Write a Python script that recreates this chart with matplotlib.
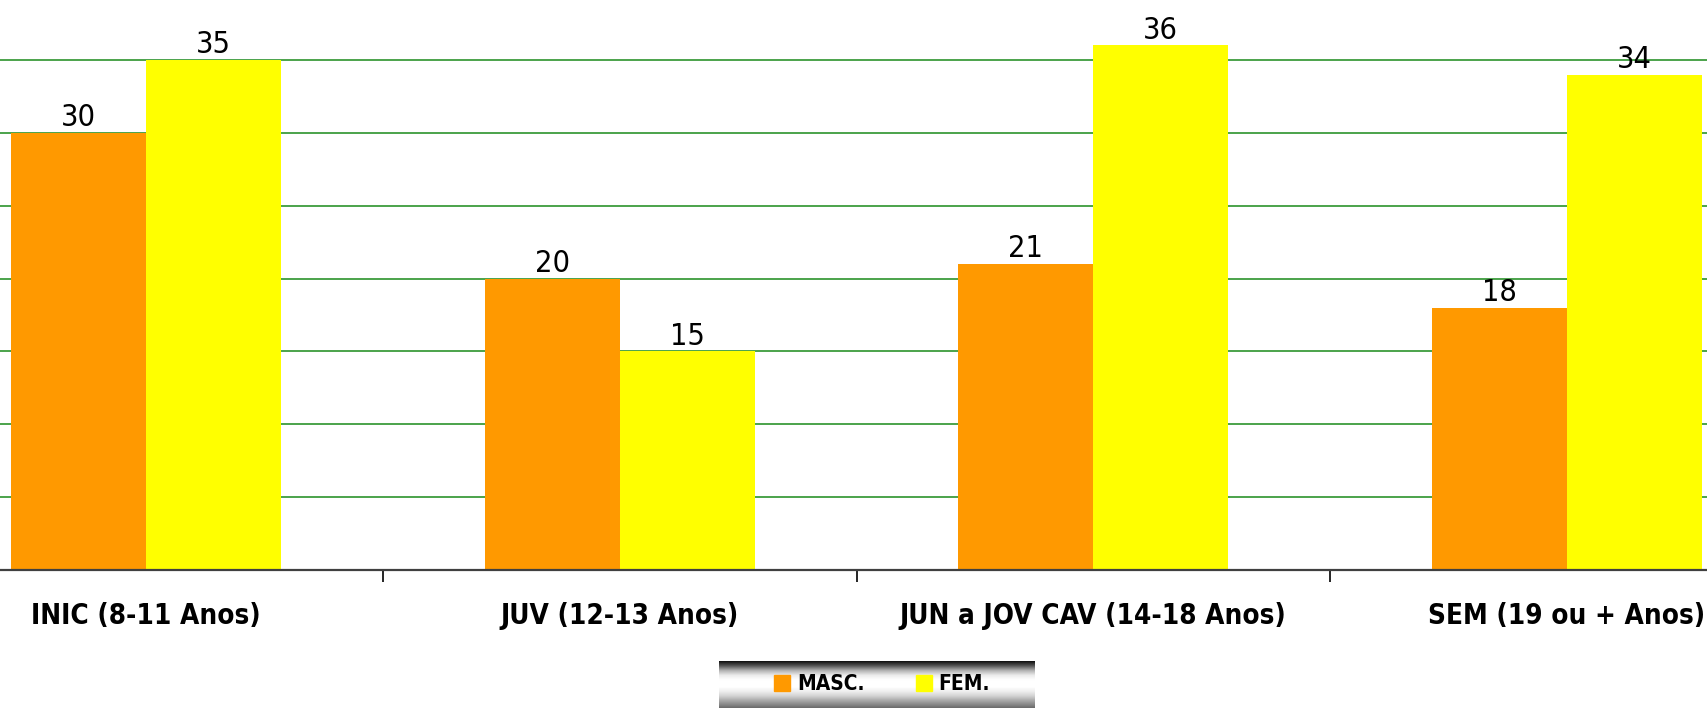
import numpy as np
import matplotlib
matplotlib.use("Agg")
import matplotlib.pyplot as plt
from matplotlib.lines import Line2D
from matplotlib import font_manager as fm

categories = ["INIC (8-11 Anos)", "JUV (12-13 Anos)", "JUN a JOV CAV (14-18 Anos)", "SEM (19 ou + Anos)"]
masc = [30, 20, 21, 18]
fem = [35, 15, 36, 34]
series_names = ["MASC.", "FEM."]
colors = ["#FF9900", "#FFFF00"]

W, H = 1707, 708
fig = plt.figure(figsize=(W / 100, H / 100), dpi=100)

cond_reg = [f.fname for f in fm.fontManager.ttflist
            if "DejaVuSansCondensed.ttf" in f.fname]
cond_bold = [f.fname for f in fm.fontManager.ttflist
             if "DejaVuSansCondensed-Bold.ttf" in f.fname]
HAVE = bool(cond_reg) and bool(cond_bold)
if HAVE:
    fp_val = fm.FontProperties(fname=cond_reg[0], size=22)
    fp_cat = fm.FontProperties(fname=cond_bold[0], size=20)
    fp_leg = fm.FontProperties(fname=cond_bold[0], size=15)
else:
    fp_val = fm.FontProperties(family="DejaVu Sans", size=20)
    fp_cat = fm.FontProperties(family="DejaVu Sans", weight="bold", size=18)
    fp_leg = fm.FontProperties(family="DejaVu Sans", weight="bold", size=13)

group_px = 473.5
left_px = -90.5
base_px = 570.0
unit_px = 14.57
ymax = 40
ax = fig.add_axes([left_px / W, (H - base_px) / H, 4 * group_px / W, ymax * unit_px / H])

x = np.arange(len(categories))
bw = 0.285
b1 = ax.bar(x - bw / 2, masc, bw, color=colors[0], zorder=3)
b2 = ax.bar(x + bw / 2, fem, bw, color=colors[1], zorder=3)
for bars in (b1, b2):
    for t in ax.bar_label(bars, padding=0.5, color="black"):
        t.set_fontproperties(fp_val)

ax.set_xlim(-0.5, len(categories) - 0.5)
ax.set_ylim(0, ymax)
ax.set_yticks(np.arange(5, ymax + 1, 5))
ax.yaxis.grid(True, color="#1A8A1A", linewidth=1.1, zorder=0)
ax.tick_params(axis="y", left=False, labelleft=False)
ax.set_xticks(x)
ax.set_xticklabels(categories)
for t in ax.get_xticklabels():
    t.set_fontproperties(fp_cat)
ax.tick_params(axis="x", which="major", length=0, pad=23)
ax.set_xticks(np.arange(-0.5, len(categories), 1.0), minor=True)
ax.tick_params(axis="x", which="minor", length=8.6, width=1.2, color="black", direction="out")
for s in ("top", "right", "left"):
    ax.spines[s].set_visible(False)
ax.spines["bottom"].set_color("#404040")
ax.spines["bottom"].set_linewidth(1.6)
ax.spines["bottom"].set_zorder(4)

# legend background gradient
lx0, lx1, ly0, ly1 = 719, 1034, 661, 708
gax = fig.add_axes([lx0 / W, (H - ly1) / H, (lx1 - lx0) / W, (ly1 - ly0) / H])
tt = np.linspace(0, 1, 100)
prof = np.interp(tt, [0, 0.1, 0.2, 0.3, 0.4, 0.55, 0.65, 0.75, 0.85, 0.95, 1.0],
                 [0.06, 0.35, 0.7, 0.92, 1.0, 1.0, 0.93, 0.82, 0.65, 0.5, 0.42])
gax.imshow(prof[:, None] * np.ones((1, 10)), cmap="gray", vmin=0, vmax=1, aspect="auto")
gax.axis("off")

handles = [Line2D([], [], marker="s", linestyle="", markersize=11, color=c) for c in colors]
fig.legend(handles, series_names, loc="center",
           bbox_to_anchor=(881 / W, (H - (ly0 + ly1) / 2) / H),
           ncol=2, frameon=False, prop=fp_leg,
           handletextpad=0.2, columnspacing=2.35, handlelength=1.0)

fig.savefig("out.png", dpi=100)
